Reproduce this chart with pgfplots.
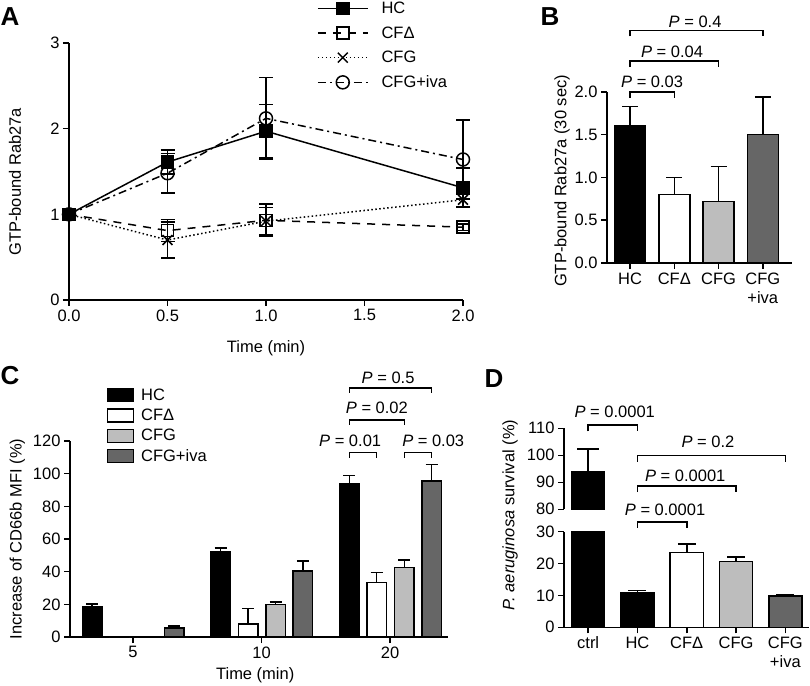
\documentclass[border=0pt]{standalone}
\usepackage{pgfplots}
\pgfplotsset{compat=1.18}
\usepackage{fontspec}
\setmainfont{Liberation Sans}
\newcommand{\fs}{\fontsize{16.5}{19}\selectfont}
\definecolor{cfgc}{HTML}{BDBDBD}
\definecolor{ivac}{HTML}{666666}
\pgfplotsset{
  base/.style={scale only axis, anchor=south west, axis x line*=bottom, axis y line*=left,
    tick align=outside, major tick length=6pt,
    every tick/.style={black, line width=1.5pt},
    axis line style={line width=1.5pt},
    tick label style={font=\fs}, label style={font=\fs},
    clip mode=individual},
  ebar/.style={error bars/.cd, y dir=plus, y explicit,
      error bar style={line width=1.5pt, black, solid},
      error mark options={rotate=90, mark size=#1, line width=1.5pt, black, solid}},
  ebarb/.style={error bars/.cd, y dir=both, y explicit,
      error bar style={line width=1.5pt, black, solid},
      error mark options={rotate=90, mark size=#1, line width=1.5pt, black, solid}},
  mybar/.style={ybar, bar shift=0pt, draw=black, line width=1.5pt, fill=#1},
  boxleg/.style={legend image code/.code={\draw[##1, line width=1.3pt] (0pt,-6.5pt) rectangle (26pt,6.5pt);}},
  lineleg/.style={legend image code/.code={\draw[##1] (0pt,0pt) -- (50pt,0pt); \draw[##1, mark repeat=1] plot coordinates {(25pt,0pt)};}},
}
\tikzset{brk/.style={line width=1.5pt, black}, pl/.style={font=\fs, anchor=base, inner sep=0pt}}
\begin{document}
\begin{tikzpicture}[x=1pt,y=1pt]
\useasboundingbox (0,0) rectangle (810,685);
% panel letters
\node[font=\fontsize{26}{28}\selectfont\bfseries] at (10,668) {A};
\node[font=\fontsize{26}{28}\selectfont\bfseries] at (550,668) {B};
\node[font=\fontsize{26}{28}\selectfont\bfseries] at (10,309) {C};
\node[font=\fontsize{26}{28}\selectfont\bfseries] at (494,306) {D};

% ---------------- Panel A
\begin{axis}[base, at={(69pt,385pt)}, width=394pt, height=257pt,
  xmin=0, xmax=2, ymin=0, ymax=3, clip=false,
  xtick={0,0.5,1,1.5,2}, xticklabels={0.0,0.5,1.0,1.5,2.0},
  ytick={0,1,2,3}, yticklabels={0,1,2,3},
  xlabel={Time (min)}, ylabel={GTP-bound Rab27a},
  xlabel style={at={(axis description cs:0.5,-0.187)}, anchor=center},
  ylabel style={at={(axis description cs:-0.137,0.46)}, anchor=center},
  legend style={at={(axis description cs:0.629,1.160)}, anchor=north west, draw=none, fill=none,
     inner sep=0pt, row sep=11.5pt, font=\fs, nodes={inner sep=0pt},
     /tikz/every odd column/.append style={column sep=13pt}},
  legend cell align=left,
]
\addplot[black, line width=1.5pt, mark=square*, mark size=6pt, mark options={solid, fill=black}, lineleg, ebarb=7pt]
  coordinates {(0,1) +- (0,0) (0.5,1.61) +- (0,0.14) (1.0,1.97) +- (0,0.31) (2.0,1.31) +- (0,0.23)};
\addlegendentry{HC}
\addplot[black, line width=1.5pt, dash pattern=on 8pt off 7pt, mark=square, mark size=6pt, mark options={solid}, lineleg, ebarb=7pt]
  coordinates {(0,1) +- (0,0) (0.5,0.81) +- (0,0.13) (1.0,0.93) +- (0,0.19) (2.0,0.85) +- (0,0.04)};
\addlegendentry{CFΔ}
\addplot[black, line width=1.5pt, dash pattern=on 1.5pt off 2.5pt, mark=x, mark size=7pt, mark options={solid}, lineleg, ebarb=7pt]
  coordinates {(0,1) +- (0,0) (0.5,0.70) +- (0,0.21) (1.0,0.92) +- (0,0.16) (2.0,1.17) +- (0,0.08)};
\addlegendentry{CFG}
\addplot[black, line width=1.5pt, dash pattern=on 8pt off 4pt on 2pt off 4pt, mark=o, mark size=6.5pt, mark options={solid}, lineleg, ebarb=7pt]
  coordinates {(0,1) +- (0,0) (0.5,1.48) +- (0,0.23) (1.0,2.12) +- (0,0.48) (2.0,1.64) +- (0,0.46)};
\addlegendentry{CFG+iva}
\end{axis}

% ---------------- Panel B
\begin{axis}[base, at={(607pt,422pt)}, width=185pt, height=171pt,
  xmin=-0.52, xmax=3.66, ymin=0, ymax=2,
  xtick={0,1,2,3}, xticklabels={HC,CFΔ,CFG,{CFG\\+iva}},
  xticklabel style={align=center},
  ytick={0,0.5,1,1.5,2}, yticklabels={0.0,0.5,1.0,1.5,2.0},
  ylabel={GTP-bound Rab27a (30 sec)},
  ylabel style={at={(axis description cs:-0.243,0.48)}, anchor=center},
]
\addplot[mybar=black, bar width=0.7, ebar=8pt] coordinates {(0,1.61) +- (0,0.22)};
\addplot[mybar=white, bar width=0.7, ebar=8pt] coordinates {(1,0.80) +- (0,0.20)};
\addplot[mybar=cfgc, bar width=0.7, ebar=8pt] coordinates {(2,0.72) +- (0,0.41)};
\addplot[mybar=ivac, bar width=0.7, ebar=8pt] coordinates {(3,1.50) +- (0,0.44)};
\draw[brk] (axis cs:0,1.93) -- (axis cs:0,2.0) -- (axis cs:1,2.0) -- (axis cs:1,1.93);
\draw[brk] (axis cs:0,2.29) -- (axis cs:0,2.36) -- (axis cs:2,2.36) -- (axis cs:2,2.29);
\draw[brk] (axis cs:0,2.65) -- (axis cs:0,2.72) -- (axis cs:3,2.72) -- (axis cs:3,2.65);
\node[pl] at ([yshift=4pt]axis cs:0.5,2.0) {\textit{P} = 0.03};
\node[pl] at ([yshift=4pt]axis cs:0.95,2.36) {\textit{P} = 0.04};
\node[pl] at ([yshift=3pt]axis cs:1.47,2.72) {\textit{P} = 0.4};
\end{axis}

% ---------------- Panel C
\begin{axis}[base, at={(70pt,48pt)}, width=378pt, height=196pt,
  xmin=-0.49, xmax=2.45, ymin=0, ymax=120,
  xtick={0,1,2}, xticklabels={5,10,20},
  ytick={0,20,40,60,80,100,120}, yticklabels={0,20,40,60,80,100,120},
  xlabel={Time (min)}, ylabel={Increase of CD66b MFI (\%)},
  xlabel style={at={(axis description cs:0.49,-0.194)}, anchor=center},
  ylabel style={at={(axis description cs:-0.139,0.5)}, anchor=center},
  legend style={at={(axis description cs:0.097,1.271)}, anchor=north west, draw=none, fill=none,
     inner sep=0pt, row sep=6pt, font=\fs, nodes={inner sep=0pt},
     /tikz/every odd column/.append style={column sep=7pt}},
  legend cell align=left,
]
\addplot[mybar=black, bar width=0.152, boxleg, ebar=6pt] coordinates {(-0.318,18.5) +- (0,1.8) (0.682,52) +- (0,2.5) (1.682,94) +- (0,4.8)};
\addlegendentry{HC}
\addplot[mybar=white, bar width=0.152, boxleg, ebar=6pt] coordinates {(-0.105,0) +- (0,0) (0.895,8) +- (0,9.5) (1.895,33.5) +- (0,6)};
\addlegendentry{CFΔ}
\addplot[mybar=cfgc, bar width=0.152, boxleg, ebar=6pt] coordinates {(0.11,0) +- (0,0) (1.11,20) +- (0,1.5) (2.11,42.5) +- (0,4.5)};
\addlegendentry{CFG}
\addplot[mybar=ivac, bar width=0.152, boxleg, ebar=6pt] coordinates {(0.322,5.5) +- (0,1.3) (1.322,40.5) +- (0,6) (2.322,95.5) +- (0,10)};
\addlegendentry{CFG+iva}
\draw[brk] (axis cs:1.682,109.8) -- (axis cs:1.682,113) -- (axis cs:1.895,113) -- (axis cs:1.895,109.8);
\draw[brk] (axis cs:2.11,109.8) -- (axis cs:2.11,113) -- (axis cs:2.322,113) -- (axis cs:2.322,109.8);
\draw[brk] (axis cs:1.682,129.8) -- (axis cs:1.682,133) -- (axis cs:2.11,133) -- (axis cs:2.11,129.8);
\draw[brk] (axis cs:1.682,149.4) -- (axis cs:1.682,152.6) -- (axis cs:2.322,152.6) -- (axis cs:2.322,149.4);
\node[pl] at ([yshift=5.5pt]axis cs:1.689,113) {\textit{P} = 0.01};
\node[pl] at ([yshift=5.5pt]axis cs:2.335,113) {\textit{P} = 0.03};
\node[pl] at ([yshift=6pt]axis cs:1.897,133) {\textit{P} = 0.02};
\node[pl] at ([yshift=4pt]axis cs:1.984,152.6) {\textit{P} = 0.5};
\end{axis}

% ---------------- Panel D (lower)
\begin{axis}[base, at={(564pt,57.7pt)}, width=245pt, height=95.6pt,
  xmin=-0.49, xmax=4.48, ymin=0, ymax=30,
  xtick={0,1,2,3,4}, xticklabels={ctrl,HC,CFΔ,CFG,{CFG\\+iva}},
  xticklabel style={align=center},
  ytick={0,10,20,30}, yticklabels={0,10,20,30},
]
\addplot[mybar=black, bar width=0.67, ebar=11pt] coordinates {(0,93.8) +- (0,8.5)};
\addplot[mybar=black, bar width=0.67, ebar=9pt] coordinates {(1,10.8) +- (0,0.8)};
\addplot[mybar=white, bar width=0.67, ebar=9pt] coordinates {(2,23.4) +- (0,2.7)};
\addplot[mybar=cfgc, bar width=0.67, ebar=9pt] coordinates {(3,20.6) +- (0,1.5)};
\addplot[mybar=ivac, bar width=0.67, ebar=9pt] coordinates {(4,9.8) +- (0,0.5)};
\draw[brk] (axis cs:1,31.2) -- (axis cs:1,33.1) -- (axis cs:2,33.1) -- (axis cs:2,31.2);
\node[pl] at ([yshift=6.7pt]axis cs:1.56,33.1) {\textit{P} = 0.0001};
\end{axis}
% ---------------- Panel D (upper)
\begin{axis}[base, at={(564pt,175.7pt)}, width=245pt, height=81pt,
  xmin=-0.49, xmax=4.48, ymin=80, ymax=110,
  axis x line=none,
  ytick={80,90,100,110}, yticklabels={80,90,100,110},
]
\addplot[mybar=black, bar width=0.67, ebar=11pt] coordinates {(0,93.8) +- (0,8.5)};
\draw[brk] (axis cs:0,108.9) -- (axis cs:0,111.25) -- (axis cs:1,111.25) -- (axis cs:1,108.9);
\draw[brk] (axis cs:1,97.7) -- (axis cs:1,100) -- (axis cs:4,100) -- (axis cs:4,97.7);
\draw[brk] (axis cs:1,86.4) -- (axis cs:1,88.7) -- (axis cs:3,88.7) -- (axis cs:3,86.4);
\node[pl] at ([yshift=7pt]axis cs:0.54,111.25) {\textit{P} = 0.0001};
\node[pl] at ([yshift=8pt]axis cs:2.43,100) {\textit{P} = 0.2};
\node[pl] at ([yshift=4pt]axis cs:1.97,88.7) {\textit{P} = 0.0001};
\end{axis}
\node[rotate=90, font=\fs] at (510,170) {\textit{P. aeruginosa} survival (\%)};
\end{tikzpicture}
\end{document}
